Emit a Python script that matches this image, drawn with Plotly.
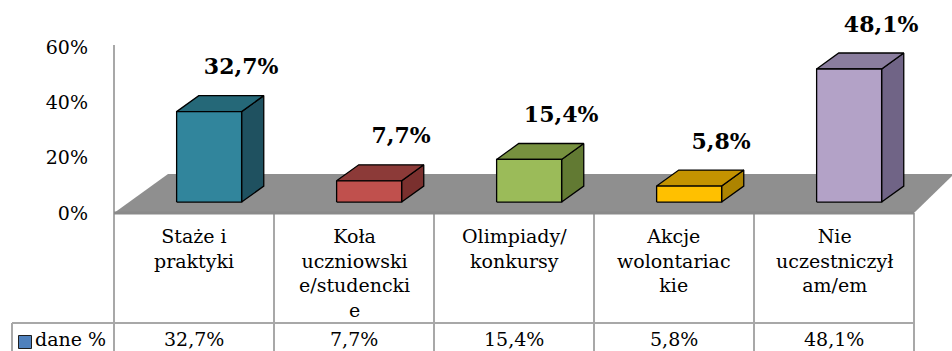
import plotly.graph_objects as go

# ---- data -------------------------------------------------------------
categories = [
    "Staże i<br>praktyki",
    "Koła<br>uczniowski<br>e/studencki<br>e",
    "Olimpiady/<br>konkursy",
    "Akcje<br>wolontariac<br>kie",
    "Nie<br>uczestniczył<br>am/em",
]
values = [32.7, 7.7, 15.4, 5.8, 48.1]
series_name = "dane %"
tick_values = [0, 20, 40, 60]
tick_labels = ["0%", "20%", "40%", "60%"]

# ---- colours (front / top / side of each box) ---------------------------
front_colors = ["#31859c", "#c0504d", "#9bbb59", "#ffc000", "#b3a2c7"]
top_colors = ["#256878", "#8c3a38", "#77913f", "#c49300", "#8a7d9e"]
side_colors = ["#1f5160", "#7a302e", "#627a33", "#ad8400", "#706486"]
legend_color = "#4f81bd"
floor_color = "#8f8f8f"
grid_line = "#a8a8a8"

SERIF = "DejaVu Serif"

# ---- page geometry ------------------------------------------------------
W, H = 952, 351
PX_PER_CAT = 160.0          # width of one category column
PX_PER_PCT = 166.0 / 60.0   # vertical scale
AXIS_PX = 114.0             # left edge of first column (value axis)
ZERO_PX = 213.0             # baseline of the value axis

n = len(values)
x_lo = -0.5 - AXIS_PX / PX_PER_CAT
x_hi = -0.5 + (W - AXIS_PX) / PX_PER_CAT
y_hi = ZERO_PX / PX_PER_PCT
y_lo = -(H - ZERO_PX) / PX_PER_PCT

def dx(px):
    return px / PX_PER_CAT

def dy(px):
    return px / PX_PER_PCT

# oblique depth vector of the floor
DEPTH_X = dx(54)
DEPTH_Y = dy(39)
DEPTH_X_RIGHT = dx(40)
Z_FRONT, Z_BACK = 0.28, 0.69      # depth band occupied by the boxes
HALF_W = dx(32.5)                  # half width of a box front

fig = go.Figure()

# floor
floor_x = [-0.5, n - 0.5, n - 0.5 + DEPTH_X_RIGHT, -0.5 + DEPTH_X, -0.5]
floor_y = [0, 0, DEPTH_Y, DEPTH_Y, 0]
fig.add_trace(go.Scatter(x=floor_x, y=floor_y, fill="toself", fillcolor=floor_color,
                         mode="lines", line=dict(width=0), hoverinfo="skip",
                         showlegend=False))

# value axis line (continues down as the table's left border)
table_bottom = y_lo
fig.add_trace(go.Scatter(x=[-0.5, -0.5], y=[table_bottom, max(tick_values) + dy(2)],
                         mode="lines", line=dict(color=grid_line, width=2),
                         hoverinfo="skip", showlegend=False))

# 3-D boxes
for i, v in enumerate(values):
    cx = i + Z_FRONT * DEPTH_X
    yb = Z_FRONT * DEPTH_Y
    yt = yb + v
    xl, xr = cx - HALF_W, cx + HALF_W
    ddx = (Z_BACK - Z_FRONT) * DEPTH_X
    ddy = (Z_BACK - Z_FRONT) * DEPTH_Y
    edge = dict(color="#000000", width=1.3)
    # side face
    fig.add_trace(go.Scatter(x=[xr, xr, xr + ddx, xr + ddx, xr],
                             y=[yb, yt, yt + ddy, yb + ddy, yb],
                             fill="toself", fillcolor=side_colors[i], mode="lines",
                             line=edge, hoverinfo="skip", showlegend=False))
    # top face
    fig.add_trace(go.Scatter(x=[xl, xr, xr + ddx, xl + ddx, xl],
                             y=[yt, yt, yt + ddy, yt + ddy, yt],
                             fill="toself", fillcolor=top_colors[i], mode="lines",
                             line=edge, hoverinfo="skip", showlegend=False))
    # front face
    fig.add_trace(go.Scatter(x=[xl, xr, xr, xl, xl],
                             y=[yb, yb, yt, yt, yb],
                             fill="toself", fillcolor=front_colors[i], mode="lines",
                             line=edge, hoverinfo="skip", showlegend=False))

# value labels above boxes
fmt = [f"{v:.1f}%".replace(".", ",") for v in values]
fig.add_trace(go.Scatter(
    x=[i + Z_FRONT * DEPTH_X + dx(32) for i in range(n)],
    y=[v + Z_FRONT * DEPTH_Y + dy(43) for v in values],
    mode="text", text=fmt, textposition="middle center",
    textfont=dict(family=SERIF, size=22, color="#000000", weight="bold"),
    hoverinfo="skip", showlegend=False, cliponaxis=False))

# ---- data table below the floor -----------------------------------------
header_bottom = -dy(110)
label_cell_left = -0.5 - dx(102)
shapes = []
line_style = dict(color=grid_line, width=2)
for k in range(1, n + 1):
    shapes.append(dict(type="line", xref="x", yref="y", x0=k - 0.5, x1=k - 0.5,
                       y0=0, y1=table_bottom, line=line_style))
shapes.append(dict(type="line", xref="x", yref="y", x0=label_cell_left, x1=n - 0.5,
                   y0=header_bottom, y1=header_bottom, line=line_style))
shapes.append(dict(type="line", xref="x", yref="y", x0=label_cell_left, x1=label_cell_left,
                   y0=header_bottom, y1=table_bottom, line=line_style))
shapes.append(dict(type="line", xref="x", yref="y", x0=-0.5, x1=n - 0.5,
                   y0=0, y1=0, line=dict(color="#8a8a8a", width=3)))

annotations = []
row_mid = header_bottom - dy(16)
for i, c in enumerate(categories):
    annotations.append(dict(x=i, y=-dy(10), xref="x", yref="y", text=c,
                            showarrow=False, xanchor="center", yanchor="top",
                            align="center",
                            font=dict(family=SERIF, size=19, color="#000000")))
    annotations.append(dict(x=i, y=row_mid, xref="x", yref="y",
                            text=fmt[i], showarrow=False, xanchor="center",
                            yanchor="middle",
                            font=dict(family=SERIF, size=19, color="#000000")))
annotations.append(dict(x=label_cell_left + dx(21), y=row_mid,
                        xref="x", yref="y", text=series_name, showarrow=False,
                        xanchor="left", yanchor="middle",
                        font=dict(family=SERIF, size=19, color="#000000")))

# legend key square in the row header
fig.add_trace(go.Scatter(x=[label_cell_left + dx(13)], y=[header_bottom - dy(19)],
                         mode="markers",
                         marker=dict(symbol="square", size=13, color=legend_color,
                                     line=dict(color="#1f1f1f", width=1)),
                         hoverinfo="skip", showlegend=False, cliponaxis=False))

fig.update_layout(
    width=W, height=H,
    margin=dict(l=0, r=0, t=0, b=0),
    paper_bgcolor="#ffffff", plot_bgcolor="#ffffff",
    showlegend=False,
    shapes=shapes, annotations=annotations,
    xaxis=dict(range=[x_lo, x_hi], visible=False, fixedrange=True),
    yaxis=dict(range=[y_lo, y_hi], anchor="free", position=AXIS_PX / W,
               side="left", tickvals=tick_values, ticktext=tick_labels,
               showgrid=False, zeroline=False, showline=False, ticks="",
               ticklabelstandoff=26,
               tickfont=dict(family=SERIF, size=19, color="#000000"),
               fixedrange=True),
)

fig.write_html("out.html")
